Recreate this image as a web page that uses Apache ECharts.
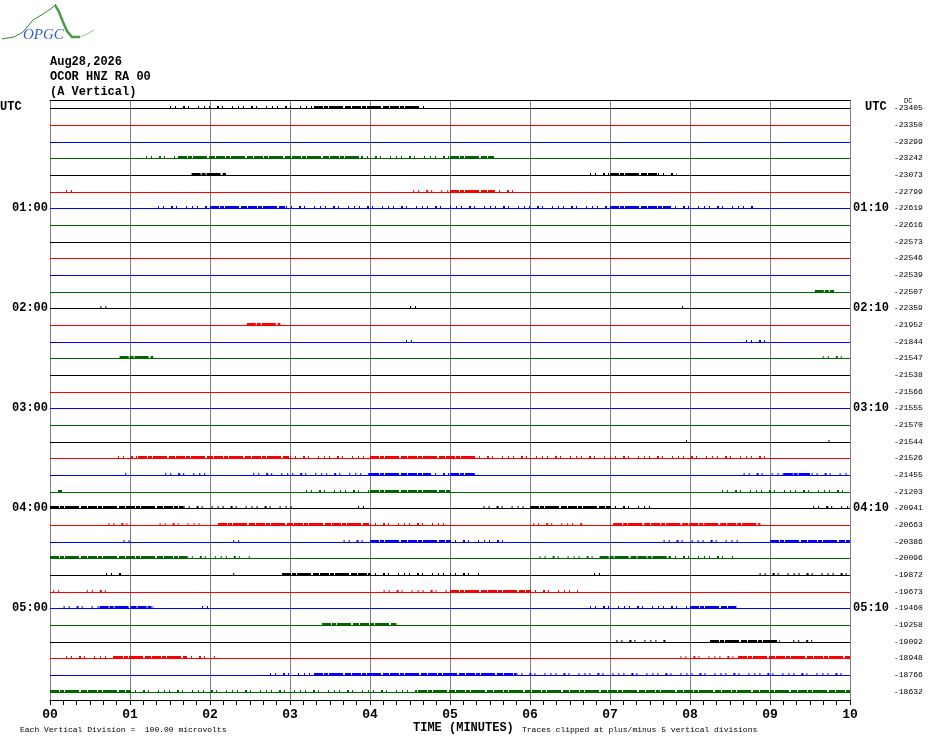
<!DOCTYPE html>
<html>
<head>
<meta charset="utf-8">
<title>OCOR HNZ RA 00</title>
<script src="https://cdn.jsdelivr.net/npm/echarts@6/dist/echarts.min.js"></script>
<style>
html,body{margin:0;padding:0;background:#fff;}
#main{width:930px;height:744px;}
</style>
</head>
<body>
<div id="main"></div>
<script>
// trace colours cycle row by row
var traceColors = ['#000000', '#ff0000', '#0000ff', '#006600'];
// DC offset printed at the right of each 10 minute line
var dcValues = [-23405, -23350, -23299, -23242, -23073, -22799, -22619, -22616, -22573, -22546, -22539, -22507,
                -22359, -21952, -21844, -21547, -21538, -21566, -21555, -21570, -21544, -21526, -21455, -21203,
                -20941, -20663, -20386, -20096, -19872, -19673, -19460, -19258, -19092, -18948, -18766, -18632];
var hourRows = [6, 12, 18, 24, 30];
var leftHours = ['01:00', '02:00', '03:00', '04:00', '05:00'];
var rightHours = ['01:10', '02:10', '03:10', '04:10', '05:10'];
var minuteLabels = ['00', '01', '02', '03', '04', '05', '06', '07', '08', '09', '10'];
// noisy stretches: [row, from minute, to minute, 1 = sparse / 2 = dense]
var bursts = [
    [0, 1.5, 3.3, 1], [0, 3.3, 4.6, 2], [0, 4.6, 4.7, 1],
    [3, 1.2, 1.6, 1], [3, 1.6, 3.9, 2], [3, 3.9, 5.0, 1], [3, 5.0, 5.55, 2],
    [4, 1.77, 2.2, 2], [4, 6.75, 7.0, 1], [4, 7.0, 7.6, 2], [4, 7.6, 7.83, 1],
    [5, 0.2, 0.33, 1], [5, 4.54, 5.0, 1], [5, 5.0, 5.55, 2], [5, 5.55, 5.8, 1],
    [6, 1.35, 2.0, 1], [6, 2.0, 2.95, 2], [6, 2.95, 7.0, 1], [6, 7.0, 7.75, 2], [6, 7.75, 8.8, 1],
    [11, 9.56, 9.8, 2],
    [12, 0.63, 0.79, 1], [12, 4.5, 4.65, 1], [12, 7.9, 7.95, 1],
    [13, 2.46, 2.88, 2],
    [14, 4.45, 4.6, 1], [14, 8.7, 9.0, 1],
    [15, 0.87, 1.29, 2], [15, 9.66, 10, 1],
    [20, 7.95, 7.98, 1], [20, 9.73, 9.76, 1],
    [21, 0.85, 1.1, 1], [21, 1.1, 3.0, 2], [21, 3.0, 4.0, 1], [21, 4.0, 5.3, 2], [21, 5.3, 9.0, 1],
    [22, 0.94, 1.0, 1], [22, 1.44, 2.0, 1], [22, 2.54, 4.0, 1], [22, 4.0, 4.75, 2], [22, 4.75, 5.0, 1],
    [22, 5.0, 5.31, 2], [22, 8.67, 10, 1], [22, 9.17, 9.5, 2],
    [23, 0.1, 0.15, 2], [23, 3.2, 4.0, 1], [23, 4.0, 5.0, 2], [23, 8.4, 10, 1],
    [24, 0, 1.67, 2], [24, 1.67, 3.08, 1], [24, 3.85, 3.96, 1], [24, 5.42, 6.0, 1], [24, 6.0, 7.0, 2],
    [24, 7.0, 7.56, 1], [24, 9.54, 10, 1],
    [25, 0.73, 1.0, 1], [25, 1.37, 1.96, 1], [25, 2.1, 4.0, 2], [25, 4.0, 5.0, 1], [25, 6.04, 6.67, 1],
    [25, 7.04, 8.88, 2],
    [26, 0.92, 1.0, 1], [26, 2.29, 2.38, 1], [26, 3.67, 4.0, 1], [26, 4.0, 5.0, 2], [26, 5.0, 5.75, 1],
    [26, 7.67, 8.63, 1], [26, 9.0, 10, 2],
    [27, 0, 1.71, 2], [27, 1.71, 2.5, 1], [27, 6.12, 6.87, 1], [27, 6.87, 7.75, 2], [27, 7.75, 8.54, 1],
    [28, 0.7, 0.92, 1], [28, 2.29, 2.33, 1], [28, 2.9, 4.0, 2], [28, 4.0, 5.0, 1], [28, 5.0, 5.42, 1],
    [28, 6.8, 6.96, 1], [28, 8.87, 10, 1],
    [29, 0.04, 0.12, 1], [29, 0.46, 0.77, 1], [29, 4.17, 5.0, 1], [29, 5.0, 6.0, 2], [29, 6.0, 6.6, 1],
    [30, 0.17, 0.62, 1], [30, 0.62, 1.29, 2], [30, 1.9, 2.02, 1], [30, 6.75, 8.0, 1], [30, 8.0, 8.58, 2],
    [31, 3.4, 4.33, 2],
    [32, 7.08, 7.7, 1], [32, 8.25, 9.12, 2], [32, 9.29, 9.54, 1],
    [33, 0.2, 0.8, 1], [33, 0.8, 1.7, 2], [33, 1.7, 2.1, 1], [33, 7.88, 8.6, 1], [33, 8.6, 10, 2],
    [34, 2.75, 3.3, 1], [34, 3.3, 5.83, 2], [34, 5.83, 10, 1],
    [35, 0, 1.0, 2], [35, 1.0, 4.6, 1], [35, 4.6, 10, 2]
];

var mono = '"Liberation Mono", "DejaVu Sans Mono", monospace';

function rowIndex(v) {
    var i = v - 0.5;
    return (i >= 0 && i % 1 === 0) ? i : -1;
}

// every row gets a full base line (level 0), then the noisy bits on top
var traceItems = [];
for (var r = 0; r < dcValues.length; r++) {
    traceItems.push([r, 0, 10, 0]);
}
traceItems = traceItems.concat(bursts);

function renderTrace(params, api) {
    var row = api.value(0), lvl = api.value(3);
    var a = api.coord([api.value(1), row + 0.5]);
    var b = api.coord([api.value(2), row + 0.5]);
    var y = Math.round(a[1]);  // snap to pixel so the 1px lines stay sharp
    var color = traceColors[row % 4];
    if (lvl === 0) {
        return {type: 'line', shape: {x1: a[0], y1: y + 0.5, x2: b[0], y2: y + 0.5},
                style: {stroke: color, lineWidth: 1}};
    }
    if (lvl === 2) {
        return {type: 'line', shape: {x1: a[0], y1: y - 0.5, x2: b[0], y2: y - 0.5},
                style: {stroke: color, lineWidth: 3, lineDash: [9, 1, 4, 1, 14, 2, 6, 1]}};
    }
    return {type: 'line', shape: {x1: a[0], y1: y - 1, x2: b[0], y2: y - 1},
            style: {stroke: color, lineWidth: 2, lineDash: [1, 4, 1, 7, 2, 3, 1, 9, 1, 5]}};
}

var yBase = {
    type: 'value', min: 0, max: dcValues.length, interval: 0.5, inverse: true,
    axisLine: {show: false}, axisTick: {show: false}, splitLine: {show: false}
};

var option = {
    backgroundColor: '#ffffff',
    animation: false,
    grid: {left: 50, right: 80, top: 100, bottom: 44},
    xAxis: [{
        type: 'value', min: 0, max: 10, interval: 1, position: 'bottom',
        axisLine: {show: true, onZero: false, lineStyle: {color: '#000', width: 1}},
        axisTick: {show: true, length: 5, lineStyle: {color: '#000'}},
        minorTick: {show: true, splitNumber: 6, length: 5, lineStyle: {color: '#000'}},
        axisLabel: {
            margin: 8, color: '#000', fontFamily: mono, fontWeight: 'bold', fontSize: 13,
            formatter: function (v) { return minuteLabels[v] || ''; }
        },
        splitLine: {show: true, lineStyle: {color: '#808080', width: 1}}
    }, {
        type: 'value', min: 0, max: 10, position: 'top',
        axisLine: {show: true, onZero: false, lineStyle: {color: '#000', width: 1}},
        axisTick: {show: false}, minorTick: {show: false},
        axisLabel: {show: false}, splitLine: {show: false}
    }],
    yAxis: [
        Object.assign({}, yBase, {
            position: 'left',
            axisLabel: {
                margin: 2, color: '#000', fontFamily: mono, fontWeight: 'bold', fontSize: 12,
                formatter: function (v) {
                    var k = hourRows.indexOf(rowIndex(v));
                    return k >= 0 ? leftHours[k] : '';
                }
            }
        }),
        Object.assign({}, yBase, {
            position: 'right',
            axisLabel: {
                margin: 3, color: '#000', fontFamily: mono, fontWeight: 'bold', fontSize: 12,
                formatter: function (v) {
                    var k = hourRows.indexOf(rowIndex(v));
                    return k >= 0 ? rightHours[k] : '';
                }
            }
        }),
        Object.assign({}, yBase, {
            position: 'right', offset: 44,
            axisLabel: {
                margin: 0, color: '#000', fontFamily: mono, fontSize: 8,
                formatter: function (v) {
                    var i = rowIndex(v);
                    return i >= 0 ? String(dcValues[i]) : '';
                }
            }
        })
    ],
    graphic: [
        // logo
        {type: 'polyline', shape: {points: [[2, 39], [14, 37], [23, 32], [33, 20], [43, 14], [52, 8], [56, 4]]},
         style: {stroke: '#2e8b2e', lineWidth: 1, fill: null}},
        {type: 'polyline', shape: {points: [[55, 5], [59, 12], [63, 22], [67, 31], [72, 37], [80, 37]]},
         style: {stroke: '#4a9a4a', lineWidth: 2.5, fill: null}},
        {type: 'polyline', shape: {points: [[80, 37], [87, 34], [94, 30]]},
         style: {stroke: '#8fc88f', lineWidth: 1, fill: null}},
        {type: 'text', left: 23, top: 28,
         style: {text: 'OPGC', fill: '#2f5fd0', font: 'italic 15px "Liberation Serif", serif'}},
        // header
        {type: 'text', left: 50, top: 56, style: {text: 'Aug28,2026', fill: '#000', font: 'bold 12px ' + mono}},
        {type: 'text', left: 50, top: 71, style: {text: 'OCOR HNZ RA 00', fill: '#000', font: 'bold 12px ' + mono}},
        {type: 'text', left: 50, top: 86, style: {text: '(A Vertical)', fill: '#000', font: 'bold 12px ' + mono}},
        {type: 'text', left: 0, top: 101, style: {text: 'UTC', fill: '#000', font: 'bold 12px ' + mono}},
        {type: 'text', left: 865, top: 101, style: {text: 'UTC', fill: '#000', font: 'bold 12px ' + mono}},
        {type: 'text', left: 904, top: 98, style: {text: 'DC', fill: '#000', font: '7px ' + mono}},
        // footer
        {type: 'text', left: 20, top: 726, style: {text: 'Each Vertical Division =  100.00 microvolts', fill: '#000', font: '8px ' + mono}},
        {type: 'text', left: 413, top: 722, style: {text: 'TIME (MINUTES)', fill: '#000', font: 'bold 12px ' + mono}},
        {type: 'text', left: 522, top: 726, style: {text: 'Traces clipped at plus/minus 5 vertical divisions', fill: '#000', font: '8px ' + mono}}
    ],
    series: [{
        type: 'custom',
        name: 'traces',
        silent: true,
        clip: false,
        renderItem: renderTrace,
        data: traceItems
    }]
};

var myChart = echarts.init(document.getElementById('main'));
myChart.setOption(option);
</script>
</body>
</html>
